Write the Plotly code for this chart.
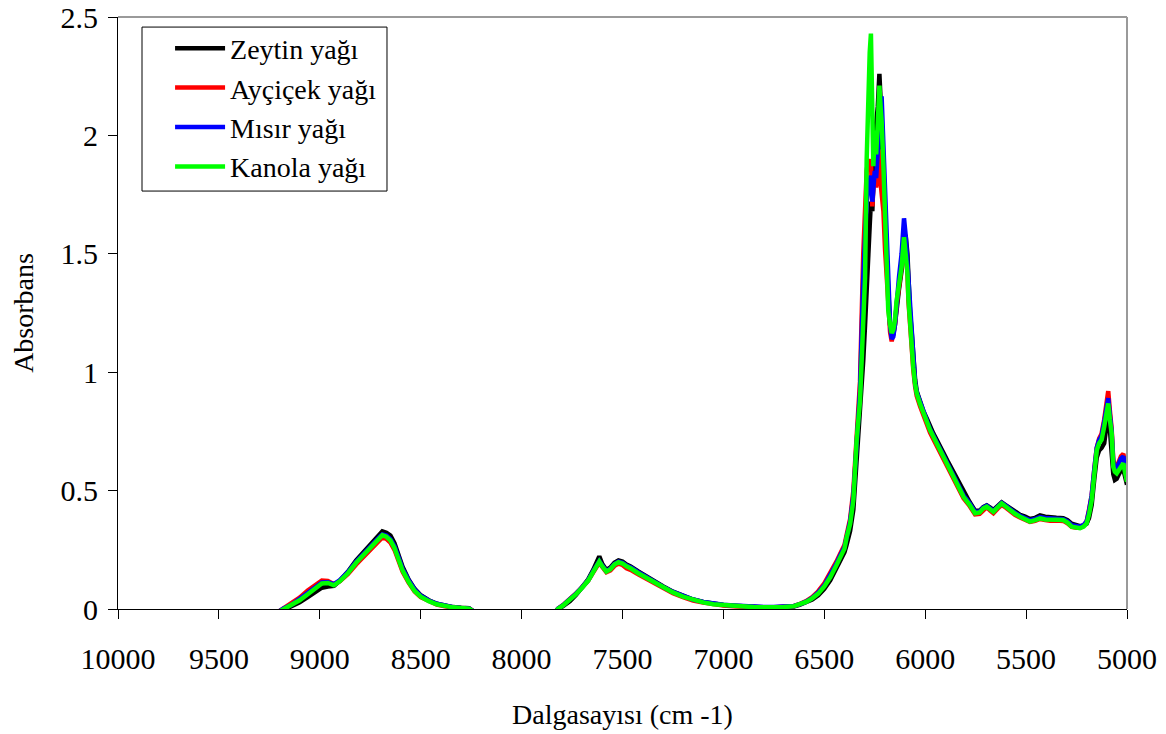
import plotly.graph_objects as go

# Wavenumber grid (cm-1), shared by all four spectra
wavenumber = [
    10000, 9600, 9220, 9180, 9140, 9100, 9060, 9020, 8990, 8960,
    8930, 8900, 8860, 8820, 8780, 8750, 8720, 8700, 8690, 8670,
    8650, 8630, 8610, 8590, 8560, 8530, 8500, 8460, 8420, 8380,
    8340, 8300, 8260, 8220, 8000, 7840, 7820, 7790, 7760, 7730,
    7700, 7670, 7645, 7625, 7615, 7600, 7580, 7560, 7540, 7520,
    7500, 7480, 7460, 7420, 7380, 7340, 7300, 7250, 7200, 7150,
    7100, 7050, 7000, 6950, 6900, 6850, 6800, 6750, 6700, 6650,
    6620, 6590, 6560, 6530, 6500, 6470, 6440, 6420, 6400, 6390,
    6372, 6356, 6340, 6323, 6307, 6298, 6290, 6282, 6275, 6269,
    6262, 6257, 6250, 6243, 6235, 6227, 6221, 6216, 6207, 6199,
    6191, 6183, 6174, 6166, 6158, 6150, 6142, 6130, 6117, 6105,
    6097, 6088, 6083, 6075, 6067, 6059, 6050, 6042, 6025, 6009,
    5990, 5976, 5960, 5943, 5925, 5910, 5885, 5860, 5835, 5810,
    5780, 5753, 5730, 5712, 5695, 5678, 5662, 5640, 5621, 5600,
    5580, 5555, 5530, 5505, 5481, 5455, 5431, 5405, 5381, 5350,
    5316, 5295, 5274, 5250, 5233, 5215, 5200, 5188, 5175, 5162,
    5150, 5138, 5126, 5113, 5101, 5093, 5085, 5076, 5068, 5060,
    5051, 5040, 5030, 5018, 5008, 5000,
]

zeytin = [
    -0.03, -0.03, -0.02, -0.005, 0.008, 0.028, 0.05, 0.075, 0.09, 0.095,
    0.098, 0.12, 0.158, 0.205, 0.245, 0.275, 0.305, 0.322, 0.328, 0.322,
    0.31, 0.278, 0.23, 0.178, 0.125, 0.085, 0.058, 0.037, 0.022, 0.013,
    0.008, 0.005, 0.003, -0.02, -0.03, -0.02, -0.002, 0.015, 0.034, 0.06,
    0.09, 0.125, 0.165, 0.205, 0.222, 0.19, 0.165, 0.175, 0.195, 0.205,
    0.2, 0.188, 0.18, 0.158, 0.136, 0.115, 0.096, 0.073, 0.055, 0.04,
    0.03, 0.022, 0.017, 0.014, 0.011, 0.008, 0.007, 0.007, 0.008, 0.011,
    0.018, 0.027, 0.04, 0.058, 0.085, 0.122, 0.17, 0.205, 0.24, 0.27,
    0.33, 0.42, 0.62, 0.8, 1.05, 1.2, 1.32, 1.45, 1.62, 1.72,
    1.68, 1.8, 1.95, 2.05, 2.12, 2.26, 2.15, 2.0, 1.82, 1.62,
    1.48, 1.3, 1.2, 1.15, 1.16, 1.2, 1.27, 1.35, 1.43, 1.52,
    1.58, 1.5, 1.38, 1.25, 1.17, 1.05, 0.97, 0.92, 0.875, 0.835,
    0.8, 0.768, 0.742, 0.715, 0.688, 0.66, 0.618, 0.578, 0.533, 0.49,
    0.452, 0.415, 0.415, 0.43, 0.438, 0.428, 0.418, 0.435, 0.45, 0.438,
    0.425, 0.41, 0.398, 0.39, 0.38, 0.385, 0.395, 0.39, 0.386, 0.385,
    0.383, 0.375, 0.36, 0.353, 0.35, 0.353, 0.36, 0.385, 0.44, 0.55,
    0.64, 0.67, 0.68, 0.7, 0.77, 0.83, 0.76, 0.66, 0.57, 0.545,
    0.55, 0.57, 0.585, 0.59, 0.56, 0.525,
]

aycicek = [
    -0.03, -0.03, -0.02, 0.003, 0.022, 0.048, 0.078, 0.105, 0.12, 0.118,
    0.105, 0.118, 0.148, 0.188, 0.225, 0.252, 0.278, 0.295, 0.302, 0.296,
    0.28, 0.25, 0.205, 0.158, 0.112, 0.074, 0.05, 0.032, 0.019, 0.011,
    0.006, 0.003, 0.0, -0.02, -0.03, -0.02, 0.002, 0.02, 0.04, 0.066,
    0.092, 0.12, 0.155, 0.185, 0.196, 0.178, 0.155, 0.163, 0.182, 0.192,
    0.186, 0.172, 0.165, 0.145, 0.126, 0.106, 0.088, 0.067, 0.05, 0.036,
    0.027, 0.019, 0.015, 0.012, 0.009, 0.007, 0.006, 0.006, 0.008, 0.013,
    0.022, 0.033, 0.05, 0.075, 0.108, 0.15, 0.2, 0.235, 0.27, 0.31,
    0.38, 0.5, 0.76, 0.96, 1.5, 1.76, 1.85, 1.9, 1.85, 1.9,
    1.7, 1.78, 1.82, 1.78, 1.86, 1.94, 1.8, 1.76, 1.68, 1.52,
    1.4, 1.24, 1.17, 1.13, 1.16, 1.2, 1.28, 1.36, 1.44, 1.53,
    1.52, 1.42, 1.3, 1.19, 1.14, 1.01, 0.94, 0.9, 0.855, 0.815,
    0.778, 0.745, 0.718, 0.69, 0.66, 0.632, 0.59, 0.55, 0.508, 0.468,
    0.435, 0.4, 0.402, 0.42, 0.43, 0.416, 0.405, 0.425, 0.44, 0.428,
    0.412, 0.398, 0.386, 0.377, 0.368, 0.372, 0.38, 0.376, 0.373, 0.374,
    0.372, 0.362, 0.347, 0.343, 0.343, 0.352, 0.37, 0.42, 0.48, 0.59,
    0.68, 0.72, 0.74, 0.8, 0.87, 0.92, 0.84, 0.76, 0.63, 0.6,
    0.6, 0.625, 0.645, 0.655, 0.6, 0.555,
]

misir = [
    -0.03, -0.03, -0.02, 0.002, 0.018, 0.042, 0.068, 0.095, 0.112, 0.113,
    0.105, 0.122, 0.157, 0.2, 0.238, 0.266, 0.292, 0.308, 0.315, 0.31,
    0.295, 0.265, 0.22, 0.17, 0.122, 0.082, 0.056, 0.036, 0.022, 0.013,
    0.008, 0.004, 0.001, -0.02, -0.03, -0.02, 0.001, 0.019, 0.039, 0.065,
    0.092, 0.122, 0.16, 0.19, 0.202, 0.183, 0.16, 0.17, 0.19, 0.2,
    0.195, 0.183, 0.176, 0.155, 0.134, 0.113, 0.094, 0.072, 0.054, 0.04,
    0.03, 0.022, 0.018, 0.015, 0.012, 0.009, 0.008, 0.008, 0.009, 0.013,
    0.021, 0.031, 0.047, 0.07, 0.1, 0.142, 0.192, 0.228, 0.262, 0.3,
    0.37, 0.48, 0.73, 0.92, 1.4, 1.6, 1.72, 1.78, 1.82, 1.83,
    1.72, 1.8, 1.85, 1.82, 1.95, 2.08, 2.13, 2.165, 1.95, 1.7,
    1.52, 1.32, 1.2, 1.14, 1.15, 1.2, 1.3, 1.4, 1.5, 1.65,
    1.58, 1.46, 1.34, 1.22, 1.16, 1.03, 0.955, 0.915, 0.87, 0.83,
    0.792, 0.76, 0.733, 0.705, 0.676, 0.648, 0.605, 0.565, 0.522, 0.48,
    0.446, 0.41, 0.412, 0.428, 0.436, 0.424, 0.414, 0.432, 0.448, 0.436,
    0.422, 0.406, 0.394, 0.385, 0.375, 0.38, 0.388, 0.384, 0.381, 0.381,
    0.379, 0.37, 0.354, 0.348, 0.347, 0.354, 0.37, 0.415, 0.48, 0.59,
    0.68, 0.715, 0.73, 0.79, 0.85, 0.89, 0.82, 0.75, 0.62, 0.595,
    0.595, 0.615, 0.635, 0.645, 0.59, 0.548,
]

kanola = [
    -0.03, -0.03, -0.02, 0.0, 0.015, 0.037, 0.062, 0.09, 0.108, 0.11,
    0.1, 0.118, 0.152, 0.195, 0.232, 0.262, 0.288, 0.305, 0.312, 0.305,
    0.29, 0.258, 0.212, 0.163, 0.115, 0.076, 0.052, 0.033, 0.02, 0.012,
    0.007, 0.004, 0.001, -0.02, -0.03, -0.02, 0.0, 0.018, 0.038, 0.063,
    0.09, 0.12, 0.157, 0.188, 0.2, 0.18, 0.158, 0.168, 0.188, 0.198,
    0.192, 0.18, 0.172, 0.15, 0.13, 0.11, 0.092, 0.07, 0.052, 0.038,
    0.028, 0.02, 0.016, 0.013, 0.01, 0.008, 0.007, 0.007, 0.008, 0.012,
    0.02, 0.03, 0.045, 0.065, 0.095, 0.135, 0.185, 0.22, 0.255, 0.3,
    0.36, 0.46, 0.71, 0.88, 1.3, 1.4, 1.9, 2.2, 2.35, 2.43,
    2.0, 1.87, 2.02, 1.92, 2.05, 2.21, 2.12, 2.06, 1.87, 1.61,
    1.47, 1.26, 1.2, 1.165, 1.18, 1.22, 1.3, 1.37, 1.445, 1.57,
    1.5, 1.42, 1.31, 1.2, 1.16, 1.02, 0.95, 0.91, 0.865, 0.826,
    0.79, 0.756, 0.728, 0.7, 0.672, 0.643, 0.6, 0.559, 0.515, 0.474,
    0.44, 0.404, 0.408, 0.425, 0.432, 0.42, 0.411, 0.43, 0.446, 0.432,
    0.418, 0.402, 0.39, 0.38, 0.369, 0.375, 0.383, 0.378, 0.376, 0.377,
    0.376, 0.365, 0.348, 0.343, 0.341, 0.348, 0.362, 0.4, 0.46, 0.57,
    0.67, 0.7, 0.714, 0.77, 0.826, 0.868, 0.8, 0.742, 0.6, 0.58,
    0.573, 0.59, 0.605, 0.615, 0.57, 0.537,
]

series_names = ["Zeytin yağı", "Ayçiçek yağı", "Mısır yağı", "Kanola yağı"]
series_values = [zeytin, aycicek, misir, kanola]
series_colors = ["#000000", "#FF0000", "#0000FF", "#00FF00"]

x_ticks = [10000, 9500, 9000, 8500, 8000, 7500, 7000, 6500, 6000, 5500, 5000]
y_ticks = [0, 0.5, 1, 1.5, 2, 2.5]

FONT = "Liberation Serif, Times New Roman, serif"

fig = go.Figure()
for name, vals, col in zip(series_names, series_values, series_colors):
    fig.add_trace(go.Scatter(
        x=wavenumber, y=vals, mode="lines", name=name,
        line=dict(color=col, width=4.5),
    ))

fig.update_layout(
    width=1166, height=734,
    margin=dict(l=118, r=39, t=17, b=125, autoexpand=False),
    paper_bgcolor="white", plot_bgcolor="white",
    font=dict(family=FONT, size=28, color="black"),
    showlegend=True,
    legend=dict(
        x=0.0516, y=0.989, xanchor="left", yanchor="top",
        bgcolor="rgba(0,0,0,0)", borderwidth=0,
        font=dict(family=FONT, size=28, color="black"),
        itemwidth=50, tracegroupgap=0,
    ),
    xaxis=dict(
        range=[10000, 5000], tickvals=x_ticks,
        ticktext=[str(v) for v in x_ticks],
        tickfont=dict(family=FONT, size=30),
        ticklabelstandoff=14,
        showline=True, linecolor="black", linewidth=1,
        ticks="outside", ticklen=9, tickcolor="black", tickwidth=1,
        showgrid=False, zeroline=False,
        title=dict(text="Dalgasayısı (cm -1)", standoff=30,
                   font=dict(family=FONT, size=28)),
    ),
    yaxis=dict(
        range=[0, 2.5], tickvals=y_ticks,
        ticktext=["0", "0.5", "1", "1.5", "2", "2.5"],
        tickfont=dict(family=FONT, size=30),
        ticklabelstandoff=4,
        showline=True, linecolor="black", linewidth=1,
        ticks="outside", ticklen=9, tickcolor="black", tickwidth=1,
        showgrid=False, zeroline=False,
        title=dict(text="Absorbans", standoff=18,
                   font=dict(family=FONT, size=28)),
    ),
    shapes=[
        # plot frame: grey top and right edges
        dict(type="line", xref="paper", yref="paper", x0=0, x1=1, y0=1, y1=1,
             line=dict(color="#9a9a9a", width=2)),
        dict(type="line", xref="paper", yref="paper", x0=1, x1=1, y0=0, y1=1,
             line=dict(color="#9a9a9a", width=2)),
        # legend frame
        dict(type="rect", xref="paper", yref="paper",
             x0=0.0238, x1=0.2666, y0=0.706, y1=0.983,
             line=dict(color="black", width=1), fillcolor="white",
             layer="below"),
    ],
)

fig.write_html("out.html")
